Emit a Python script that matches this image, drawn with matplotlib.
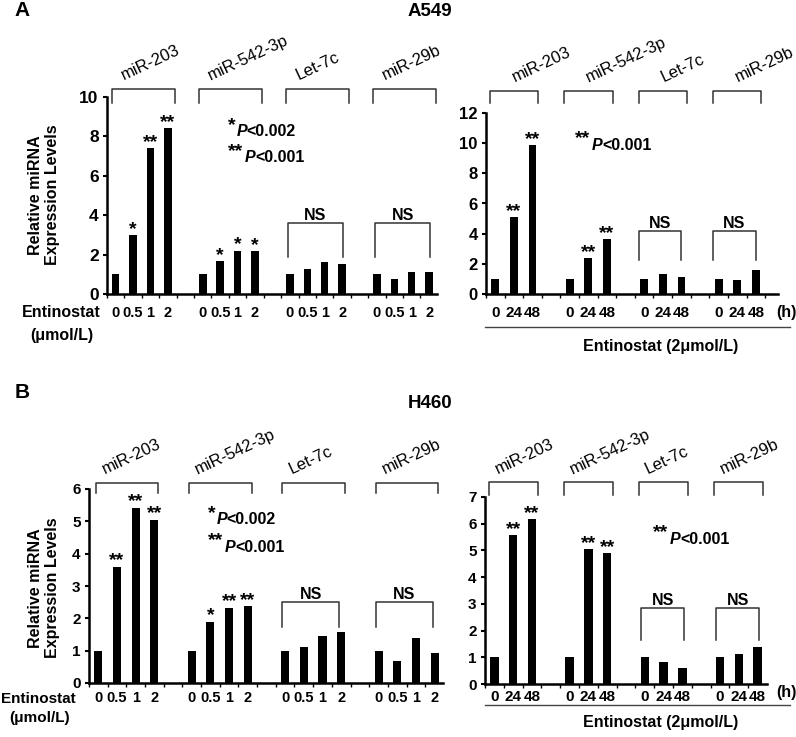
import numpy as np
import matplotlib.pyplot as plt

plt.rcParams['font.family'] = ['Liberation Sans', 'DejaVu Sans']
plt.rcParams['font.weight'] = 'bold'

W, H = 796, 737

mirnas = ['miR-203', 'miR-542-3p', 'Let-7c', 'miR-29b']
dose_labels = ['0', '0.5', '1', '2']
time_labels = ['0', '24', '48']

# relative expression, one list per miRNA
a549_dose = [[1.0, 2.98, 7.4, 8.42],
             [1.0, 1.65, 2.2, 2.18],
             [1.0, 1.26, 1.62, 1.5],
             [1.0, 0.76, 1.1, 1.14]]
a549_time = [[1.0, 5.08, 9.87],
             [1.0, 2.38, 3.65],
             [1.0, 1.3, 1.1],
             [1.0, 0.95, 1.6]]
h460_dose = [[1.0, 3.6, 5.42, 5.05],
             [1.0, 1.9, 2.33, 2.38],
             [1.0, 1.12, 1.44, 1.57],
             [1.0, 0.68, 1.4, 0.93]]
h460_time = [[1.0, 5.57, 6.17],
             [1.0, 5.05, 4.9],
             [1.0, 0.83, 0.6],
             [1.0, 1.14, 1.38]]

a549_dose_stars = [['', '*', '**', '**'], ['', '*', '*', '*'], [], []]
a549_time_stars = [['', '**', '**'], ['', '**', '**'], [], []]
h460_dose_stars = [['', '**', '**', '**'], ['', '*', '**', '**'], [], []]
h460_time_stars = [['', '**', '**'], ['', '**', '**'], [], []]

ns_groups = [2, 3]

fig = plt.figure(figsize=(W / 100, H / 100), dpi=100)


def px_axes(x0, x1, ytop, yzero):
    return fig.add_axes([x0 / W, 1 - yzero / H, (x1 - x0) / W, (yzero - ytop) / H])


def ftext(x, y, s, **kw):
    fig.text(x / W, 1 - y / H, s, **kw)


def panel(ax, values, stars, labels, ymax, step, xlim, width, br, lab, ns, pad, fs, yfs):
    n = len(labels)
    xs_all, labs_all = [], []
    for g, vals in enumerate(values):
        x = g * (n + 1) + np.arange(n)
        ax.bar(x, vals, width=width, color='black')
        for xi, v, s in zip(x, vals, stars[g]):
            if s:
                ax.annotate(s, (xi, v), xytext=(0, -2), textcoords='offset points',
                            ha='center', va='bottom', fontsize=14)
        xs_all += list(x)
        labs_all += labels
        # group bracket on top
        b0, b1, byh, byl = g * (n + 1) + br[0], g * (n + 1) + br[1], br[2], br[3]
        ax.plot([b0, b0, b1, b1], [byl, byh, byh, byl], color='#333333', lw=1.1,
                clip_on=False)
        ax.text(b0 + lab[0], lab[1], mirnas[g], rotation=25, rotation_mode='anchor',
                ha='left', va='bottom', fontsize=12, fontweight='normal', clip_on=False)
        if g in ns_groups:
            n0, n1 = g * (n + 1) + ns[0], g * (n + 1) + ns[1]
            ax.plot([n0, n0, n1, n1], [ns[3], ns[2], ns[2], ns[3]], color='#333333',
                    lw=1.1, clip_on=False)
            ax.text((n0 + n1) / 2, ns[2], 'NS', ha='center', va='bottom', fontsize=11.5)
    ax.set_xlim(*xlim)
    ax.set_ylim(0, ymax)
    ax.set_yticks(np.arange(0, ymax + 0.01, step))
    ax.set_xticks(xs_all, labs_all)
    ax.set_xticks(np.arange(-0.5, xlim[1], 1), minor=True)
    ax.tick_params(axis='x', which='major', length=0, pad=pad, labelsize=fs)
    ax.tick_params(axis='x', which='minor', length=3, width=1, direction='out')
    ax.tick_params(axis='y', length=3, width=1.5, direction='out', labelsize=yfs, pad=3)
    for s in ['top', 'right']:
        ax.spines[s].set_visible(False)
    for s in ['left', 'bottom']:
        ax.spines[s].set_linewidth(1.8)


def ptext(x, y, stars, val):
    # "*P<0.002" style legend; x positions in pixels
    ftext(x, y - 6, stars, fontsize=14, va='center')
    sw = 8.5 * len(stars)
    ftext(x + sw, y, 'P', fontsize=11.5, style='italic', va='center')
    ftext(x + sw + 10, y, val, fontsize=11.5, va='center')


# ---------- A: A549 ----------
ax = px_axes(107, 437, 97, 294)
panel(ax, a549_dose, a549_dose_stars, dose_labels, 10, 2, (-0.5, 18.45), 0.43,
      (-0.2, 3.4, 10.4, 9.7), (0.75, 10.7), (-0.1, 3.05, 3.6, 1.9), 9, 10.5, 12.5)
ax = px_axes(486, 778, 113, 294)
panel(ax, a549_time, a549_time_stars, time_labels, 12, 2, (-0.43, 15.19), 0.42,
      (-0.3, 2.3, 13.46, 12.66), (1.4, 13.85), (-0.3, 2.0, 4.2, 2.25), 9, 11, 12)

# ---------- B: H460 ----------
ax = px_axes(89, 443, 489, 683)
panel(ax, h460_dose, h460_dose_stars, dose_labels, 6, 1, (-0.48, 18.45), 0.43,
      (-0.15, 3.2, 6.19, 5.88), (0.55, 6.37), (-0.15, 2.9, 2.5, 1.73), 6, 10.5, 11)
ax = px_axes(485, 767, 497, 684)
panel(ax, h460_time, h460_time_stars, time_labels, 7, 1, (-0.37, 14.5), 0.45,
      (-0.3, 2.3, 7.56, 7.07), (0.53, 7.75), (-0.2, 2.1, 2.85, 1.65), 4, 11, 11)

# titles
ftext(22, 10, 'A', fontsize=15, ha='center', va='center')
ftext(430, 11, 'A549', fontsize=13.5, ha='center', va='center')
ftext(22, 392, 'B', fontsize=15, ha='center', va='center')
ftext(430, 404, 'H460', fontsize=13.5, ha='center', va='center')

# y labels
for yc in (195, 588):
    ftext(44, yc, 'Relative miRNA\nExpression Levels', rotation=90, fontsize=11.5,
          ha='center', va='center', ma='center', linespacing=1.25)

# dose axis titles
ftext(61, 313, 'Entinostat', fontsize=11.5, ha='center', va='center')
ftext(62, 335, '(\u03bcmol/L)', fontsize=11.5, ha='center', va='center')
ftext(38, 699, 'Entinostat', fontsize=11, ha='center', va='center')
ftext(40, 718, '(\u03bcmol/L)', fontsize=11, ha='center', va='center')

# time axis titles
for ylab, yline, ytit in ((313, 327, 346), (693, 705, 723)):
    ftext(786, ylab, '(h)', fontsize=11.5, ha='center', va='center')
    fig.add_artist(plt.Line2D([485 / W, 790 / W], [1 - yline / H] * 2, color='#444444', lw=1))
    ftext(661, ytit, 'Entinostat (2\u03bcmol/L)', fontsize=11.5, ha='center', va='center')

# p-value legends
ptext(228, 132, '*', '<0.002')
ptext(228, 158, '**', '<0.001')
ptext(575, 145, '**', '<0.001')
ptext(208, 520, '*', '<0.002')
ptext(208, 547, '**', '<0.001')
ptext(653, 539, '**', '<0.001')

fig.savefig('out.png', dpi=100)
